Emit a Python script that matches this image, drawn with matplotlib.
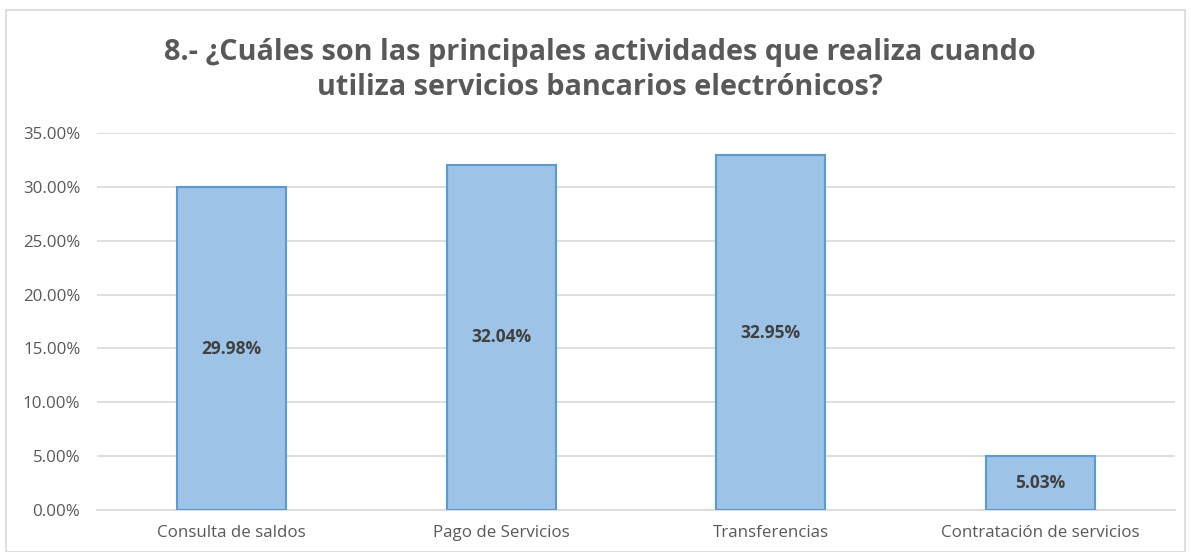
import matplotlib.pyplot as plt
import matplotlib.patches as mpatches
from matplotlib.ticker import FuncFormatter, MultipleLocator

categorias = ['Consulta de saldos', 'Pago de Servicios', 'Transferencias', 'Contratación de servicios']
valores = [29.98, 32.04, 32.95, 5.03]
etiquetas = ['29.98%', '32.04%', '32.95%', '5.03%']

plt.rcParams['font.family'] = ['Open Sans', 'DejaVu Sans']

fig = plt.figure(figsize=(11.91, 5.52), dpi=100)
ax = fig.add_axes([97 / 1191, 1 - 510 / 552, 1078 / 1191, 377 / 552])

# borde del gráfico
fig.patches.append(mpatches.Rectangle((6 / 1191, 0), 1179 / 1191, 542 / 552,
                                      transform=fig.transFigure, fill=False,
                                      edgecolor='#d9d9d9', linewidth=1.2))

x = list(range(len(categorias)))
barras = ax.bar(x, valores, width=0.405, color='#9dc3e6', edgecolor='#5b9bd5',
                linewidth=1.5, zorder=3)

for xi, v, t in zip(x, valores, etiquetas):
    ax.text(xi, v / 2, t, ha='center', va='center', fontsize=12.5,
            fontweight='bold', color='#404040', zorder=4)

ax.set_xlim(-0.5, len(categorias) - 0.5)
ax.set_ylim(0, 35)
ax.yaxis.set_major_locator(MultipleLocator(5))
ax.yaxis.set_major_formatter(FuncFormatter(lambda v, p: f'{v:.2f}%'))
ax.set_xticks(x)
ax.set_xticklabels(categorias)
ax.tick_params(axis='both', length=0, labelsize=12.2, colors='#595959')
ax.tick_params(axis='x', pad=11)
ax.tick_params(axis='y', pad=12)
ax.grid(axis='y', color='#d9d9d9', linewidth=1.2, zorder=0)
for s in ['top', 'right', 'left']:
    ax.spines[s].set_visible(False)
ax.spines['bottom'].set_color('#d9d9d9')
ax.spines['bottom'].set_linewidth(1.2)

fig.text(0.504, 1 - 70 / 552,
         '8.- ¿Cuáles son las principales actividades que realiza cuando\nutiliza servicios bancarios electrónicos?',
         ha='center', va='center', fontsize=20.8, fontweight='bold', color='#595959',
         linespacing=1.3)

fig.savefig('out.png', dpi=100)
